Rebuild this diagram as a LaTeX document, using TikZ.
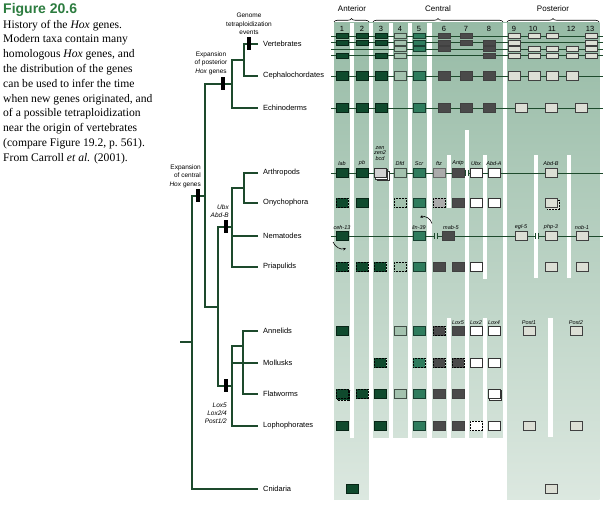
\documentclass[tikz,border=0pt]{standalone}
\usepackage{fontspec}
\setmainfont{Liberation Serif}
\setsansfont{Liberation Sans}
\usepackage{xcolor}
\usepackage{tikz}
\usetikzlibrary{positioning,calc,arrows.meta,decorations.pathreplacing}
\definecolor{HTree}{HTML}{1D4A2C}
\definecolor{HFig}{HTML}{2C7C3F}
\definecolor{HDark}{HTML}{0F4A2D}
\definecolor{HTeal}{HTML}{2F7C5D}
\definecolor{HPale}{HTML}{A3C2AE}
\definecolor{HSlate}{HTML}{4A4A4A}
\definecolor{HMid}{HTML}{ABABAB}
\definecolor{HLight}{HTML}{DCDFD5}
\definecolor{HBgTop}{HTML}{97BBA6}
\definecolor{HBgBot}{HTML}{DCE8E0}

\begin{document}
\begin{tikzpicture}[x=1pt, y=-1pt,
  every node/.style={font=\sffamily\fontsize{7.5}{9}\selectfont, text=black},
  branch/.style={draw=HTree, line width=1.4pt},
  event/.style={fill=black, minimum width=4pt, minimum height=13pt, inner sep=0pt},
  taxon/.style={anchor=west, inner xsep=5pt, inner ysep=1pt},
  note/.style={font=\sffamily\fontsize{6.5}{8.5}\selectfont, align=center, inner sep=0pt},
  notei/.style={note, font=\sffamily\itshape\fontsize{6.5}{8}\selectfont, align=right, anchor=east},
  colnum/.style={font=\sffamily\fontsize{7.5}{8}\selectfont, inner sep=0pt},
  region/.style={font=\sffamily\fontsize{8}{9}\selectfont, inner sep=0pt},
  brace/.style={decorate, decoration={brace, amplitude=3.5pt}, draw=black, line width=0.6pt},
  locus/.style={draw=HTree, line width=0.9pt},
  gapmark/.style={draw=HTree, line width=0.5pt},
  gname/.style={font=\sffamily\itshape\fontsize{5.5}{5.5}\selectfont, anchor=south, inner sep=0.5pt, align=center},
  gene/.style={line width=0.5pt, minimum width=12pt, minimum height=9.5pt, inner sep=0pt},
  vgene/.style={gene, minimum height=5pt},
  gA/.style={fill=HDark, draw=HDark!50!black},
  gT/.style={fill=HTeal, draw=HTeal!50!black},
  gP/.style={fill=HPale, draw=HPale!40!black},
  gG/.style={fill=HSlate, draw=black!75},
  gM/.style={fill=HMid, draw=black!60},
  gW/.style={fill=white, draw=black!80},
  gL/.style={fill=HLight, draw=black!75},
  gAd/.style={gA, draw=black, densely dotted},
  gTd/.style={gT, draw=black, densely dotted},
  gPd/.style={gP, draw=black, densely dotted},
  gGd/.style={gG, draw=black, densely dotted},
  gMd/.style={gM, draw=black, densely dotted},
  gWd/.style={gW, draw=black, densely dotted},
  gLd/.style={gL, draw=black, densely dotted},
  invarrow/.style={-{Stealth[length=3pt,width=2.6pt]}, line width=0.6pt, draw=black}]
\useasboundingbox (0,0) rectangle (611,518);

% caption
\node[anchor=north west, inner sep=0pt, align=left,
      font=\rmfamily\fontsize{11.6}{14.8}\selectfont] (caption) at (3,3)
  {{\sffamily\bfseries\fontsize{14}{14.8}\selectfont\color{HFig}Figure 20.6}\\
   History of the \textit{Hox} genes.\\
   Modern taxa contain many\\
   homologous \textit{Hox} genes, and\\
   the distribution of the genes\\
   can be used to infer the time\\
   when new genes originated, and\\
   of a possible tetraploidization\\
   near the origin of vertebrates\\
   (compare Figure 19.2, p.~561).\\
   From Carroll \textit{et al.} (2001).};

% tree
\node[taxon] (vert)  at (258,44)  {Vertebrates};
\node[taxon] (ceph)  at (258,76)  {Cephalochordates};
\node[taxon] (echi)  at (258,108) {Echinoderms};
\node[taxon] (arth)  at (258,173) {Arthropods};
\node[taxon] (onyc)  at (258,203) {Onychophora};
\node[taxon] (nema)  at (258,236) {Nematodes};
\node[taxon] (priap) at (258,267) {Priapulids};
\node[taxon] (anne)  at (258,331) {Annelids};
\node[taxon] (moll)  at (258,363) {Mollusks};
\node[taxon] (flat)  at (258,394) {Flatworms};
\node[taxon] (loph)  at (258,426) {Lophophorates};
\node[taxon] (cnid)  at (258,489) {Cnidaria};
\coordinate (chord) at (244,60);
\coordinate (deut)  at (232,84);
\coordinate (panar) at (244,188);
\coordinate (ecdy)  at (232,227);
\coordinate (spir)  at (243,346);
\coordinate (lopho) at (232,386);
\coordinate (proto) at (218,307);
\coordinate (bilat) at (205,196);
\coordinate (root)  at (192,342);
\coordinate (stem)  at (180,342);
\draw[branch] (vert.west) -| (chord) |- (ceph.west);
\draw[branch] (chord) -| (deut) |- (echi.west);
\draw[branch] (arth.west) -| (panar) |- (onyc.west);
\draw[branch] (panar) -| (ecdy) |- (priap.west);
\draw[branch] (nema.west) -- (nema.west -| ecdy);
\draw[branch] (anne.west) -| (spir) |- (flat.west);
\draw[branch] (spir) -| (lopho) |- (loph.west);
\draw[branch] (moll.west) -- (moll.west -| lopho);
\draw[branch] (ecdy) -| (proto) |- (lopho);
\draw[branch] (deut) -| (bilat) |- (proto);
\draw[branch] (bilat) -| (root) |- (cnid.west);
\draw[branch] (stem) -- (root);
\node[event] (tetra)   at (249,44)  {};
\node[event] (postexp) at (223,84)  {};
\node[event] (centexp) at (198,196) {};
\node[event] (ubxexp)  at (226,227) {};
\node[event] (loxexp)  at (226,386) {};
\node[note] (tetratxt) at (249,24) {Genome\\tetraploidization\\events};
\node[note] (posttxt)  at (211,63) {Expansion\\of posterior\\\textit{Hox} genes};
\node[note, align=right, anchor=east] (centtxt) at (201,176) {Expansion\\of central\\\textit{Hox} genes};
\node[notei] (ubxtxt) at (229,211) {Ubx\\Abd-B};
\node[notei] (loxtxt) at (227,413) {Lox5\\Lox2/4\\Post1/2};

% gene columns
\shade[top color=HBgTop, bottom color=HBgBot] (334,23) rectangle (599.5,500);
\foreach \a/\b/\t/\u in {349.5/354/23/438, 369/373/23/500, 389/393/23/438,
    408/412/23/438, 427/432/23/438, 447/451/155/208, 447/451/318/438,
    465/469/130/438, 483/487/155/279, 483/487/318/438, 503/507/23/500,
    534/538/155/278, 567/571/155/278, 548/553/318/437}
  \fill[white] (\a,\t) rectangle (\b,\u);
\fill[white] (369,438) rectangle (507,500);

\node[region] (ant) at (352,9) {Anterior};
\node[region] (cen) at (438,9) {Central};
\node[region] (pos) at (553,9) {Posterior};
\draw[brace] (334,22) -- (369,22);
\draw[brace] (373,22) -- (503,22);
\draw[brace] (507,22) -- (599,22);
\foreach \n/\x in {1/342,2/362,3/381,4/400,5/419,6/444,7/466,8/489,9/514,10/533,11/552,12/571,13/590}
  \node[colnum] (col\n) at (\x,28.5) {\n};

% vertebrates
\foreach \y/\r in {36/a,42.5/b,49/c,55.5/d} {
  \coordinate (v\r L) at (331,\y); \coordinate (v\r R) at (603,\y);
  \draw[locus] (v\r L) -- (v\r R);
}
\foreach \x/\s in {342/gA,362/gA,381/gA,400/gP,419/gT,444/gG,466/gG,514/gL,534/gL,552/gL,591/gL}
  \node[vgene,\s] (va\x) at (\x,36) {};
\foreach \x/\s in {342/gA,362/gA,381/gA,400/gP,419/gT,444/gG,466/gG,489/gG,514/gL,591/gL}
  \node[vgene,\s] (vb\x) at (\x,42.5) {};
\foreach \x/\s in {400/gP,419/gT,444/gG,489/gG,514/gL,534/gL,552/gL,572/gL,591/gL}
  \node[vgene,\s] (vc\x) at (\x,49) {};
\foreach \x/\s in {342/gA,381/gA,400/gP,489/gG,514/gL,534/gL,552/gL,572/gL,591/gL}
  \node[vgene,\s] (vd\x) at (\x,55.5) {};

% cephalochordates, echinoderms
\coordinate (ceL) at (331,76);  \coordinate (ceR) at (603,76);
\coordinate (ecL) at (331,108); \coordinate (ecR) at (603,108);
\draw[locus] (ceL) -- (ceR);
\draw[locus] (ecL) -- (ecR);
\foreach \x/\s in {342/gA,362/gA,381/gA,400/gP,419/gT,444/gG,466/gG,489/gG,514/gL,534/gL,552/gL,572/gL}
  \node[gene,\s] (ce\x) at (\x,76) {};
\foreach \x/\s in {342/gA,362/gA,381/gA,419/gT,444/gG,466/gG,489/gG,521/gL,551/gL,581/gL}
  \node[gene,\s] (ec\x) at (\x,108) {};

% arthropods
\coordinate (arL) at (331,173); \coordinate (arR) at (603,173);
\coordinate (arB1) at (465.5,173); \coordinate (arB2) at (468.5,173);
\draw[locus] (arL) -- (arB1) (arB2) -- (arR);
\foreach \c in {arB1,arB2} \draw[gapmark] ($(\c)+(0,-3)$) -- ($(\c)+(0,3)$);
\foreach \x/\s in {342/gA,362/gA,400/gP,419/gT,439/gM,458/gG,476/gW,494/gW,551/gL}
  \node[gene,\s] (ar\x) at (\x,173) {};
\node[gene,gW] (zen3) at (383,176) {};
\node[gene,gW] (zen2) at (381.5,174.5) {};
\node[gene,fill=black!18,draw=black!80] (zen1) at (380,173) {};
\foreach \x/\t in {342/lab,362/pb,400/Dfd,419/Scr,439/ftz,458/Antp,476/Ubx,494/Abd-A,551/Abd-B}
  \node[gname] (arl\x) at (\x,166.5) {\t};
\node[gname] (arl380) at (380,161) {zen\\zen2\\bcd};

% onychophora
\foreach \x/\s in {342/gAd,362/gA,400/gPd,419/gT,439/gMd,458/gG,476/gW,494/gW}
  \node[gene,\s] (on\x) at (\x,203) {};
\node[gene,gLd] (on553) at (553,205) {};
\node[gene,gL] (on551) at (551,203) {};

% nematodes
\coordinate (neL) at (331,236); \coordinate (neR) at (603,236);
\coordinate (neB1) at (434.5,236); \coordinate (neB2) at (437.5,236);
\coordinate (neB3) at (535,236); \coordinate (neB4) at (538,236);
\draw[locus] (neL) -- (neB1) (neB2) -- (neB3) (neB4) -- (neR);
\foreach \c in {neB1,neB2,neB3,neB4} \draw[gapmark] ($(\c)+(0,-3)$) -- ($(\c)+(0,3)$);
\foreach \x/\s in {342/gA,419/gT,448/gG,521/gL,551/gL,582/gL}
  \node[gene,\s] (ne\x) at (\x,236) {};
\foreach \x/\t in {342/ceh-13,419/lin-39,451/mab-5,521/egl-5,551/php-3,582/nob-1}
  \node[gname] (nel\x) at (\x,230.5) {\t};
\coordinate (inv1a) at (432,223.5); \coordinate (inv1b) at (420,217.5);
\coordinate (inv2a) at (333,242);   \coordinate (inv2b) at (346,248.5);
\draw[invarrow] (inv1a) to[bend right=50] (inv1b);
\draw[invarrow] (inv2a) to[bend right=40] (inv2b);

% priapulids
\foreach \x/\s in {342/gAd,362/gAd,380/gAd,400/gPd,419/gT,439/gG,458/gG,476/gW,551/gL,582/gL}
  \node[gene,\s] (pr\x) at (\x,267) {};

% annelids
\foreach \x/\s in {342/gA,400/gP,419/gT,439/gGd,458/gG,476/gW,494/gW,529/gL,576/gL}
  \node[gene,\s] (an\x) at (\x,331) {};
\foreach \x/\t in {458/Lox5,476/Lox2,494/Lox4,529/Post1,576/Post2}
  \node[gname] (anl\x) at (\x,325) {\t};

% mollusks
\foreach \x/\s in {380/gAd,419/gTd,439/gGd,458/gGd,476/gW,494/gW}
  \node[gene,\s] (mo\x) at (\x,363) {};

% flatworms
\node[gene,gAd] (fl343) at (343.5,395.5) {};
\node[gene,gW] (fl496) at (495.5,395.5) {};
\foreach \x/\s in {342/gAd,362/gAd,380/gA,400/gP,419/gT,439/gG,458/gG,494/gW}
  \node[gene,\s] (fl\x) at (\x,394) {};

% lophophorates
\foreach \x/\s in {342/gA,380/gA,419/gT,439/gG,458/gG,476/gWd,494/gW,529/gL,576/gL}
  \node[gene,\s] (lo\x) at (\x,426) {};

% cnidaria
\node[gene,gA] (cn352) at (352,489) {};
\node[gene,gL] (cn551) at (551,489) {};
\end{tikzpicture}
\end{document}
